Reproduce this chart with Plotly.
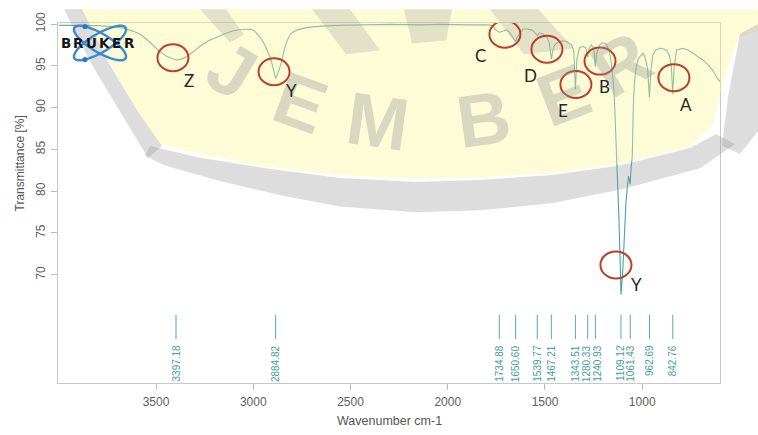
import math
import plotly.graph_objects as go

# ---- FTIR spectrum: wavenumber (cm-1) and transmittance (%) ----
wavenumber = [
    4000, 3900, 3800, 3720, 3670, 3620, 3583, 3550, 3515, 3480,
    3443, 3415, 3397, 3370, 3340, 3309, 3270, 3230, 3185, 3140,
    3102, 3060, 3015, 2995, 2972, 2950, 2937, 2920, 2911, 2900,
    2894, 2885, 2878, 2870, 2859, 2846, 2834, 2820, 2808, 2790,
    2773, 2722, 2650, 2550, 2450, 2300, 2150, 2030, 1900, 1790,
    1768, 1757, 1745, 1735, 1723, 1710, 1697, 1685, 1677, 1660,
    1651, 1643, 1625, 1612, 1590, 1569, 1552, 1540, 1530, 1510,
    1490, 1478, 1467, 1458, 1449, 1435, 1423, 1405, 1389, 1363,
    1352, 1343.5, 1336, 1322, 1305, 1290, 1280, 1272, 1262, 1252,
    1247, 1241, 1234, 1222, 1210, 1200, 1185, 1170, 1160, 1150,
    1142, 1135, 1128, 1120, 1114, 1109, 1100, 1094, 1084, 1076,
    1070, 1066, 1062, 1058, 1051, 1046, 1040, 1032, 1020, 1008,
    995, 984, 972, 963, 955, 945, 930, 909, 890, 873,
    860, 850, 843, 836, 823, 805, 791, 765, 739, 713,
    688, 660, 636, 611, 600,
]
transmittance = [
    99.85, 99.85, 99.8, 99.7, 99.5, 99.15, 98.8, 98.2, 97.4, 96.7,
    96.1, 95.8, 95.7, 95.8, 96.1, 96.7, 97.4, 98.0, 98.5, 98.9,
    99.2, 99.35, 99.4, 99.2, 98.6, 97.9, 97.3, 96.5, 95.9, 94.9,
    94.2, 93.5, 93.8, 94.3, 95.1, 96.4, 97.5, 98.3, 98.8, 99.1,
    99.3, 99.6, 99.75, 99.85, 99.9, 99.95, 99.9, 99.95, 99.9, 99.9,
    99.8, 99.4, 99.15, 99.0, 99.1, 99.2, 99.3, 99.05, 98.8, 98.3,
    97.9, 98.4, 99.0, 99.4, 99.4, 99.3, 99.0, 98.6, 98.95, 98.8,
    98.4, 97.8, 95.8, 97.0, 97.5, 97.8, 97.9, 98.0, 97.9, 97.5,
    96.8, 92.2, 95.8, 97.2, 97.3, 97.2, 96.0, 97.1, 97.5, 97.2,
    96.6, 94.9, 96.5, 97.4, 97.7, 97.75, 97.6, 96.8, 95.5, 93.4,
    90.5, 86.5, 82.5, 77.0, 72.0, 67.6, 70.5, 73.7, 78.4, 80.7,
    81.8, 81.3, 80.8, 82.5, 84.2, 90.1, 93.0, 94.7, 95.9, 96.2,
    96.5, 95.9, 94.6, 91.2, 94.6, 96.3, 96.9, 97.1, 97.0, 96.8,
    96.2, 94.8, 91.6, 94.8, 96.9, 97.0, 97.1, 96.9, 96.5, 96.1,
    95.7, 95.1, 94.4, 93.4, 93.1,
]
assert len(wavenumber) == len(transmittance)

# ---- peak picking results ----
peak_wavenumber = [3397.18, 2884.82, 1734.88, 1650.60, 1539.77, 1467.21,
                   1343.51, 1280.33, 1240.93, 1109.12, 1061.43, 962.69, 842.76]
peak_text = ["3397.18", "2884.82", "1734.88", "1650.60", "1539.77", "1467.21",
             "1343.51", "1280.33", "1240.93", "1109.12", "1061.43", "962.69", "842.76"]

# ---- band markers (circled regions) ----
band_names = ["Z", "Y", "C", "D", "E", "B", "A", "Y"]
band_wavenumber = [3413, 2893, 1706, 1490, 1341, 1217, 837, 1135]
band_transmittance = [95.97, 94.28, 98.77, 96.97, 92.76, 95.56, 93.58, 71.17]

x_tick_values = [3500, 3000, 2500, 2000, 1500, 1000]
y_tick_values = [70, 75, 80, 85, 90, 95, 100]

# ---- layout geometry ----
W, H = 758, 435
PL, PR, PT, PB = 58, 720, 14, 383          # plot area in pixels
X_RANGE = [4004, 600]
Y_RANGE = [57.04, 100.12]
TICK_Y_TOP, TICK_Y_BOT, TEXT_Y = 65.22, 62.30, 61.83

# offsets (px) of each marker letter from its circle centre
label_dx = [16, 17, -24, -16, -13, 4, 12, 21]
label_dy = [22.5, 19, 21.5, 26, 26, 25, 27, 20]
# small sideways shifts of crowded peak labels (px)
peak_label_shift = [0, 0, 0, 0, 0, 0, 0, -1, 2, 0, 0, 0, 0]


def fx(x):
    return (x - PL) / (PR - PL)


def fy(y):
    return (PB - y) / (PB - PT)


def poly(points):
    return "M " + " L ".join(f"{fx(x):.4f},{fy(y):.4f}" for x, y in points) + " Z"


def ellipse(cx, cy, a, b, deg, n=60):
    th = math.radians(deg)
    pts = []
    for i in range(n):
        t = 2 * math.pi * i / n
        ex, ey = a * math.cos(t), b * math.sin(t)
        pts.append((cx + ex * math.cos(th) - ey * math.sin(th),
                    cy + ex * math.sin(th) + ey * math.cos(th)))
    return poly(pts)


fig = go.Figure()

# spectrum
fig.add_trace(go.Scatter(
    x=wavenumber, y=transmittance, mode="lines",
    line=dict(color="#4aa2a2", width=1.1), hoverinfo="skip", showlegend=False,
))

# peak ticks
seg_x, seg_y = [], []
for p in peak_wavenumber:
    seg_x += [p, p, None]
    seg_y += [TICK_Y_TOP, TICK_Y_BOT, None]
fig.add_trace(go.Scatter(
    x=seg_x, y=seg_y, mode="lines",
    line=dict(color="#5aaaaa", width=1), hoverinfo="skip", showlegend=False,
))

shapes = []
annotations = []

# ---- watermark (semi-transparent overlay) ----
YELLOW = "rgba(252,247,150,0.38)"
GREY = "rgba(150,150,150,0.32)"
GREY_LIGHT = "rgba(150,150,150,0.26)"
wm_yellow = [(80, 0), (758, 0), (758, 22), (738, 30), (724, 70), (713, 118), (690, 140),
             (620, 158), (550, 168), (480, 172), (416, 174), (340, 170), (260, 160),
             (200, 148), (160, 138), (138, 105), (110, 55)]
wm_left_band = [(64, 0), (82, 0), (110, 57), (138, 105), (162, 140), (148, 152),
                (120, 105), (92, 57)]
wm_arc_band = [(150, 140), (200, 152), (260, 162), (340, 173), (416, 177), (480, 175),
               (550, 170), (620, 160), (690, 142), (716, 128), (735, 138), (700, 163),
               (620, 185), (550, 199), (480, 206), (416, 208), (340, 202), (283, 191),
               (220, 176), (165, 160), (145, 150)]
wm_right_band = [(740, 25), (758, 15), (758, 125), (740, 148), (722, 140), (728, 90)]
wm_top = [
    [(200, 0), (226, 0), (244, 26), (230, 34)],
    [(312, 0), (350, 0), (380, 42), (346, 46)],
    [(404, 0), (452, 0), (446, 32), (412, 35)],
    [(490, 0), (538, 0), (574, 40), (524, 46)],
]
shapes.append(dict(type="path", path=poly(wm_yellow), xref="paper", yref="paper",
                   fillcolor=YELLOW, line=dict(width=0), layer="above"))
for pts in [wm_left_band, wm_arc_band, wm_right_band]:
    shapes.append(dict(type="path", path=poly(pts), xref="paper", yref="paper",
                       fillcolor=GREY, line=dict(width=0), layer="above"))
for pts in wm_top:
    shapes.append(dict(type="path", path=poly(pts), xref="paper", yref="paper",
                       fillcolor=GREY_LIGHT, line=dict(width=0), layer="above"))

# watermark lettering along the arc
for ch, cx, cy, ang in [("J", 232, 63, 31), ("E", 300, 95, 20), ("M", 378, 115, 8),
                        ("B", 483, 113, -8), ("E", 563, 88, -21), ("R", 621, 57, -31)]:
    annotations.append(dict(
        text=ch, x=fx(cx), y=fy(cy), xref="paper", yref="paper",
        xanchor="center", yanchor="middle", textangle=ang, showarrow=False,
        font=dict(family="Liberation Sans", size=74, color="rgba(150,150,150,0.36)",
                  weight="bold"),
    ))

# ---- Bruker logo ----
for deg in (31.5, -31.5):
    shapes.append(dict(type="path", path=ellipse(100, 34.5, 30, 9.5, deg),
                       xref="paper", yref="paper", line=dict(color="#3a8ad2", width=2.4),
                       fillcolor="rgba(0,0,0,0)", layer="above"))
for dx, dy in [(85, 17.5), (85, 51.5)]:
    shapes.append(dict(type="circle", xref="paper", yref="paper",
                       x0=fx(dx - 2.6), x1=fx(dx + 2.6), y0=fy(dy + 2.6), y1=fy(dy - 2.6),
                       fillcolor="#2a78c0", line=dict(width=0), layer="above"))
for i, ch in enumerate("BRUKER"):
    annotations.append(dict(
        text=ch, x=fx(66 + 12.7 * i), y=fy(34), xref="paper", yref="paper",
        xanchor="center", yanchor="middle", showarrow=False,
        font=dict(family="DejaVu Sans", size=13.5, color="#141414", weight="bold"),
    ))

# ---- circled bands with letters ----
for name, w, t, dx, dy in zip(band_names, band_wavenumber, band_transmittance,
                              label_dx, label_dy):
    shapes.append(dict(type="circle", xref="x", yref="y",
                       xsizemode="pixel", ysizemode="pixel", xanchor=w, yanchor=t,
                       x0=-15.5, x1=15.5, y0=-13.5, y1=13.5,
                       line=dict(color="#b8402c", width=2), fillcolor="rgba(0,0,0,0)",
                       layer="above"))
    annotations.append(dict(
        text=name, x=w, y=t, xref="x", yref="y", xshift=dx, yshift=-dy,
        showarrow=False, xanchor="center", yanchor="middle",
        font=dict(family="Lato", size=17, color="#262626"),
    ))

# ---- peak labels ----
for p, txt, sh in zip(peak_wavenumber, peak_text, peak_label_shift):
    annotations.append(dict(
        text=txt, x=p, y=TEXT_Y, xref="x", yref="y", textangle=-90, xshift=sh,
        xanchor="center", yanchor="top", showarrow=False,
        font=dict(family="Liberation Sans", size=10, color="#3f9e9e"),
    ))

# axis titles
annotations.append(dict(text="Wavenumber cm-1", x=fx(389), y=fy(422), xref="paper",
                        yref="paper", showarrow=False, xanchor="center", yanchor="middle",
                        font=dict(family="Liberation Sans", size=12.5, color="#555555")))
annotations.append(dict(text="Transmittance [%]", x=fx(20), y=fy(158), xref="paper",
                        yref="paper", showarrow=False, xanchor="center", yanchor="middle",
                        textangle=-90,
                        font=dict(family="Liberation Sans", size=12, color="#555555")))

axis_common = dict(
    showgrid=False, zeroline=False, showline=True, mirror=True,
    linecolor="#c9c9c9", linewidth=1, ticks="outside", ticklen=6,
    tickcolor="#bdbdbd", tickfont=dict(family="Liberation Sans", size=12, color="#5e5e5e"),
)
fig.update_layout(
    width=W, height=H,
    margin=dict(l=PL, r=W - PR, t=PT, b=H - PB, pad=0),
    paper_bgcolor="white", plot_bgcolor="white",
    xaxis=dict(range=X_RANGE, tickvals=x_tick_values, ticklabelstandoff=2, **axis_common),
    yaxis=dict(range=Y_RANGE, tickvals=y_tick_values, tickangle=-90,
               ticklabelstandoff=1, **axis_common),
    shapes=shapes, annotations=annotations, showlegend=False,
)

fig.write_html("out.html")
